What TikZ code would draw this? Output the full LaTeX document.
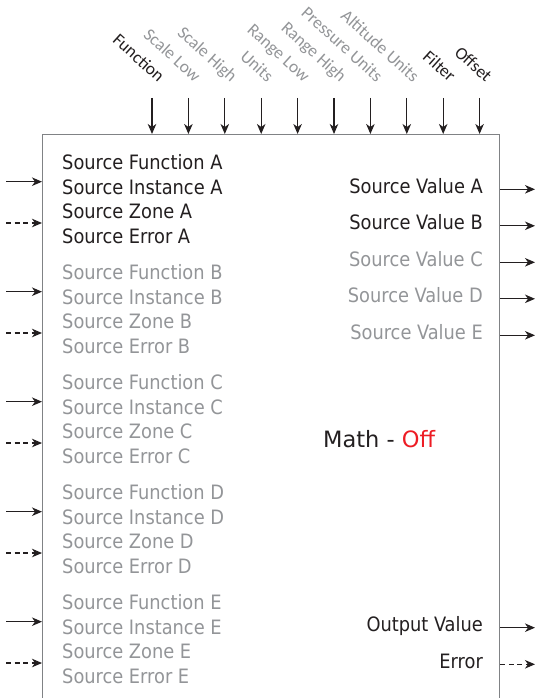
\documentclass[tikz,border=0pt]{standalone}
\usepackage{fontspec}
\setmainfont{DejaVu Sans Condensed}
\newfontfamily\pinfont{Carlito}
\newfontfamily\modefont{DejaVu Sans}
\usetikzlibrary{positioning, arrows.meta}

\definecolor{ink}{HTML}{231F20}
\definecolor{faded}{HTML}{939598}
\definecolor{frame}{HTML}{808285}
\definecolor{offred}{HTML}{ED1C24}

\begin{document}
\begin{tikzpicture}[x=1bp, y=-1bp,
    >={Stealth[length=10bp, width=8.5bp, inset=3bp]},
    wire/.style={->, draw=ink, line width=1.1bp},
    errwire/.style={wire, dash pattern=on 5bp off 3.5bp},
    pin/.style={inner sep=0pt, rotate=-42, anchor=base east, text=#1,
        font=\pinfont\fontsize{17.5bp}{20bp}\selectfont},
    src/.style={inner sep=0pt, anchor=base west, text=#1,
        font=\fontsize{19.8bp}{22bp}\selectfont},
    out/.style={inner sep=0pt, anchor=base east, text=#1,
        font=\fontsize{19.8bp}{22bp}\selectfont}]

    \useasboundingbox (0,0) rectangle (535,698);

    % the block, open at the bottom of the page
    \node[draw=frame, line width=1.4bp, inner sep=0pt, anchor=north west,
          minimum width=457bp, minimum height=640bp] (blk) at (42,134) {};

    % parameter inputs along the top
    \foreach \lab/\col [count=\i from 0] in {Function/ink, Scale Low/faded,
        Scale High/faded, Units/faded, Range Low/faded, Range High/faded,
        Pressure Units/faded, Altitude Units/faded, Filter/ink, Offset/ink} {
        \coordinate (p\i) at (152+36.4*\i, 98);
        \node[pin=\col] (pl\i) at (158+36.4*\i, 83) {\lab};
        \draw[wire] (p\i) -- (p\i |- blk.north);
    }

    % source inputs on the left
    \foreach \g/\col [count=\k from 0] in {A/ink, B/faded, C/faded, D/faded, E/faded} {
        \node[src=\col] (fn\g) at (62, 169.3+110*\k) {Source Function \g};
        \node[src=\col] (inst\g) at (62, 194.1+110*\k) {Source Instance \g};
        \node[src=\col] (zone\g) at (62, 218.8+110*\k) {Source Zone \g};
        \node[src=\col] (err\g) at (62, 243.6+110*\k) {Source Error \g};
        \coordinate (fin\g) at (6, 181.7+110*\k);
        \coordinate (ein\g) at (6, 223+110*\k);
        \draw[wire] (fin\g) -- (fin\g -| blk.west);
        \draw[errwire] (ein\g) -- (ein\g -| blk.west);
    }

    % source values on the right
    \foreach \g/\col [count=\k from 0] in {A/ink, B/ink, C/faded, D/faded, E/faded} {
        \node[out=\col] (val\g) at (483, 193+36.5*\k) {Source Value \g};
        \coordinate (vo\g) at (535, 189.3+36.5*\k);
        \draw[wire] (vo\g -| blk.east) -- (vo\g);
    }

    \node[inner sep=0pt, anchor=base west, text=ink,
          font=\modefont\fontsize{22.5bp}{26bp}\selectfont] (mode) at (323,447)
        {Math - \textcolor{offred}{Off}};

    % outputs
    \node[out=ink] (outv) at (483,631) {Output Value};
    \node[out=ink] (outerr) at (483,668) {Error};
    \coordinate (vout) at (535,627.7);
    \coordinate (eout) at (535,664.3);
    \draw[wire] (vout -| blk.east) -- (vout);
    \draw[errwire] (eout -| blk.east) -- (eout);
\end{tikzpicture}
\end{document}
